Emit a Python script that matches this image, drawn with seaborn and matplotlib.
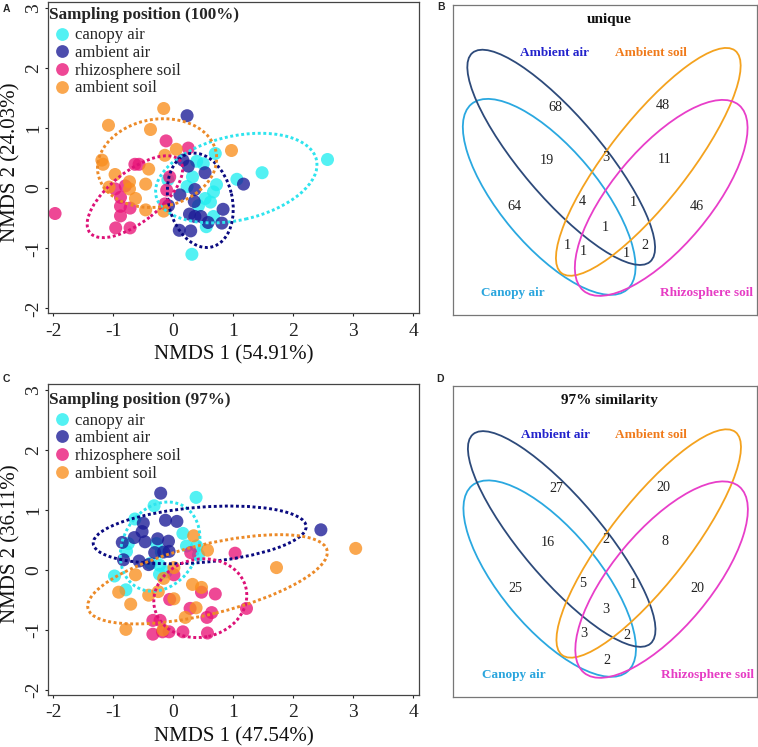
import numpy as np
import pandas as pd
import matplotlib
matplotlib.use("Agg")
import matplotlib.pyplot as plt
from matplotlib.patches import Ellipse
from matplotlib.lines import Line2D
import seaborn as sns

# ---------------- data ----------------
groups = ["canopy air", "ambient air", "rhizosphere soil", "ambient soil"]

# Panel A : NMDS (100%)
a_canopy_x = [2.57, 1.48, 1.06, 0.70, 0.39, 0.50, 0.32, 0.72, 0.23, 0.67, 0.53, 0.62, 0.42, 0.67, 0.55, 0.31, -0.09]
a_canopy_y = [0.48, 0.26, 0.15, 0.58, 0.45, 0.41, 0.19, 0.06, 0.03, -0.06, -0.17, -0.23, -0.29, -0.47, -0.64, -1.10, 0.14]
a_air_x = [0.23, 0.16, 0.25, 0.53, 1.17, 0.36, 0.11, 0.35, 0.83, 0.27, 0.36, 0.46, 0.81, 0.58, 0.10, 0.29, -0.08]
a_air_y = [1.21, 0.47, 0.37, 0.26, 0.07, -0.02, -0.11, -0.22, -0.35, -0.43, -0.47, -0.47, -0.58, -0.57, -0.70, -0.71, -0.29]
a_rhizo_x = [-1.97, -0.12, -0.64, -0.57, 0.25, -0.80, -0.97, -0.88, -0.88, -0.72, -0.88, -0.96, -0.72, -0.11, -0.14, -0.06]
a_rhizo_y = [-0.42, 0.79, 0.40, 0.40, 0.67, 0.04, -0.01, -0.15, -0.30, -0.33, -0.46, -0.66, -0.66, -0.03, -0.26, 0.19]
a_soil_x = [-0.16, -1.08, -0.38, 0.05, 0.97, -0.14, -1.19, -1.17, -0.41, -0.97, -0.73, -0.46, -1.07, -0.73, -0.63, -0.46, -0.16]
a_soil_y = [1.33, 1.05, 0.98, 0.65, 0.63, 0.55, 0.47, 0.40, 0.32, 0.23, 0.11, 0.07, 0.02, -0.01, -0.17, -0.36, -0.38]

# Panel A ellipses (centre x, centre y, semi-major, semi-minor, angle deg)
a_ell_cx = [1.05, 0.45, -0.64, -0.27]
a_ell_cy = [0.17, -0.20, -0.14, 0.42]
a_ell_a = [1.37, 0.80, 0.96, 1.00]
a_ell_b = [0.70, 0.53, 0.42, 0.73]
a_ell_ang = [12.8, 104.0, 38.5, 10.0]

# Panel C : NMDS (97%)
c_canopy_x = [0.38, -0.32, -0.64, 0.16, 0.22, 0.39, 0.42, -0.75, -0.78, -0.98, -0.79, -0.28, -0.38, -0.23, -0.23, -0.12, -0.20]
c_canopy_y = [1.21, 1.07, 0.85, 0.61, 0.40, 0.40, 0.25, 0.44, 0.31, -0.10, -0.33, 0.44, 0.11, 0.08, -0.07, -0.03, 0.30]
c_air_x = [-0.21, -0.50, -0.13, 0.06, -0.65, -0.52, -0.47, -0.85, -0.26, -0.08, -0.31, -0.16, -0.07, -0.83, -0.57, -0.41, 2.46]
c_air_y = [1.28, 0.78, 0.83, 0.81, 0.54, 0.64, 0.47, 0.46, 0.52, 0.48, 0.29, 0.30, 0.31, 0.17, 0.15, 0.09, 0.67]
c_rhizo_x = [1.03, 0.29, 0.01, 0.47, 0.70, -0.06, 0.28, 0.64, 0.56, 1.22, -0.34, -0.22, -0.34, -0.18, -0.07, 0.16, 0.57]
c_rhizo_y = [0.28, 0.29, -0.08, -0.37, -0.40, -0.49, -0.64, -0.71, -0.79, -0.64, -0.84, -0.84, -1.07, -1.03, -1.03, -1.03, -1.05]
c_soil_x = [3.04, 1.72, 0.34, 0.57, 0.01, -0.16, -0.63, -0.91, -0.71, -0.41, -0.25, 0.01, 0.32, 0.47, 0.38, 0.20, -0.79, -0.17]
c_soil_y = [0.36, 0.04, 0.57, 0.33, 0.04, -0.14, -0.08, -0.37, -0.57, -0.42, -0.36, -0.48, -0.24, -0.29, -0.63, -0.79, -0.99, -1.00]

c_ell_cx = [-0.22, 0.44, 0.45, 0.57]
c_ell_cy = [0.39, 0.585, -0.47, -0.155]
c_ell_a = [0.78, 1.78, 0.78, 2.05]
c_ell_b = [0.62, 0.46, 0.65, 0.58]
c_ell_ang = [60.0, 4.7, 12.0, 13.7]

x_ticks = [-2, -1, 0, 1, 2, 3, 4]
y_ticks = [-2, -1, 0, 1, 2, 3]

# Venn counts  (A=canopy air, B=ambient air, C=ambient soil, D=rhizosphere soil)
venn_regions = ["A", "B", "C", "D", "AB", "AC", "AD", "BC", "BD", "CD",
                "ABC", "ABD", "ACD", "BCD", "ABCD"]
unique_counts = [64, 68, 48, 46, 19, 1, 0, 3, 2, 11, 4, 1, 1, 1, 1]
sim97_counts = [25, 27, 20, 20, 16, 0, 2, 2, 0, 8, 5, 2, 3, 1, 3]
venn_sets = ["Canopy air", "Ambient air", "Ambient soil", "Rhizosphere soil"]

# ---------------- style ----------------
sns.set_theme(style="ticks")
plt.rcParams["font.family"] = ["Liberation Serif", "DejaVu Serif"]

pt_colors = {"canopy air": "#22EEF0", "ambient air": "#1B1B96",
             "rhizosphere soil": "#EA1478", "ambient soil": "#F98E1D"}
ell_colors = ["#2EE4EE", "#0A0A80", "#DD1177", "#EC8A28"]

W, H = 758, 747
fig = plt.figure(figsize=(W / 100, H / 100), dpi=100)


def px_axes(l, t, r, b):
    return fig.add_axes([l / W, 1 - b / H, (r - l) / W, (b - t) / H])


def nmds_panel(ax, xs, ys, ecx, ecy, ea, eb, eang, title, xlabel, ylabel,
               leg_y):
    frames = []
    for g, x, y in zip(groups, xs, ys):
        frames.append(pd.DataFrame({"x": x, "y": y, "group": g}))
    df = pd.concat(frames, ignore_index=True)
    sns.scatterplot(data=df, x="x", y="y", hue="group", hue_order=groups,
                    palette=pt_colors, s=88, alpha=0.78, linewidth=0,
                    legend=False, ax=ax, zorder=2)
    for i in range(4):
        e = Ellipse((ecx[i], ecy[i]), 2 * ea[i], 2 * eb[i], angle=eang[i],
                    fill=False, edgecolor=ell_colors[i], lw=2.1,
                    linestyle=(0, (1, 0.9)), zorder=3)
        ax.add_patch(e)
    ax.set_xlim(-2.093, 4.1)
    ax.set_ylim(-2.08, 3.1)
    ax.set_xticks(x_ticks)
    ax.set_yticks(y_ticks)
    ax.set_xticklabels([str(v) for v in x_ticks])
    ax.set_yticklabels([str(v) for v in y_ticks])
    ax.tick_params(axis="both", direction="out", length=2.4, width=0.8,
                   labelsize=14, pad=4.5, colors="#222222")
    ax.tick_params(axis="y", labelrotation=90, pad=1.6)
    for lbl in ax.get_yticklabels():
        lbl.set_va("center")
    for s in ax.spines.values():
        s.set_visible(True)
        s.set_color("#444444")
        s.set_linewidth(0.9)
    ax.set_xlabel(xlabel, fontsize=15, color="#111111")
    ax.set_ylabel(ylabel, fontsize=15, color="#111111")
    ax.xaxis.set_label_coords(0.5, -0.104)
    ax.yaxis.set_label_coords(-0.074, 0.485)
    handles = [Line2D([0], [0], marker="o", linestyle="", markersize=9.2,
                      markerfacecolor=pt_colors[g], markeredgewidth=0,
                      alpha=0.78) for g in groups]
    leg = ax.legend(handles, groups, loc="upper left",
                    bbox_to_anchor=(0.004, leg_y), frameon=False,
                    fontsize=12, title=title,
                    title_fontproperties={"weight": "bold", "size": 12.3},
                    borderpad=0.0, labelspacing=0.1, handlelength=1.55,
                    handletextpad=0.0, borderaxespad=0.0, alignment="left")
    leg._legend_box.sep = 3
    return ax


axA = px_axes(47.7, 2.3, 419.3, 313.1)
nmds_panel(axA, [a_canopy_x, a_air_x, a_rhizo_x, a_soil_x],
           [a_canopy_y, a_air_y, a_rhizo_y, a_soil_y],
           a_ell_cx, a_ell_cy, a_ell_a, a_ell_b, a_ell_ang,
           "Sampling position (100%)", "NMDS 1 (54.91%)", "NMDS 2 (24.03%)",
           0.984)

axC = px_axes(47.7, 384.0, 419.3, 694.8)
nmds_panel(axC, [c_canopy_x, c_air_x, c_rhizo_x, c_soil_x],
           [c_canopy_y, c_air_y, c_rhizo_y, c_soil_y],
           c_ell_cx, c_ell_cy, c_ell_a, c_ell_b, c_ell_ang,
           "Sampling position (97%)", "NMDS 1 (47.54%)", "NMDS 2 (36.11%)",
           0.973)

# ---------------- Venn panels ----------------
venn_ell = [  # centre x, centre y (down), semi-major, semi-minor, angle
    (96.5, 192.0, 121.0, 49.0, 50.0),
    (108.5, 152.5, 137.0, 40.0, 49.6),
    (195.6, 157.0, 141.0, 40.0, -52.0),
    (208.5, 193.0, 121.0, 49.0, -50.0),
]
venn_line_colors = ["#2AA8E0", "#2D4A7A", "#F4A21E", "#E83EC9"]
venn_text_colors = ["#2AA5DD", "#2222CC", "#F07A1A", "#E63CC4"]
venn_set_pos = [(60.6, 288.5), (102.3, 48.5), (198.0, 48.5), (254.0, 288.5)]
venn_num_pos = {
    "A": (62.0, 202.0), "B": (103.0, 102.5), "C": (210.0, 101.0),
    "D": (244.0, 202.0), "AB": (94.5, 155.5), "AC": (114.6, 240.5),
    "AD": (153.4, 274.0), "BC": (152.8, 153.0), "BD": (192.3, 240.5),
    "CD": (211.5, 155.0), "ABC": (129.5, 196.5), "ABD": (173.5, 249.0),
    "ACD": (131.0, 247.0), "BCD": (180.5, 197.5), "ABCD": (152.8, 222.5),
}


def venn_panel(ax, counts, title):
    ax.set_xlim(0, 304)
    ax.set_ylim(310, 0)
    ax.set_xticks([])
    ax.set_yticks([])
    for s in ax.spines.values():
        s.set_visible(True)
        s.set_color("#777777")
        s.set_linewidth(0.9)
    for (cx, cy, a, b, ang), col in zip(venn_ell, venn_line_colors):
        ax.add_patch(Ellipse((cx, cy), 2 * a, 2 * b, angle=ang, fill=False,
                             edgecolor=col, lw=1.3))
    for name, (x, y), col in zip(venn_sets, venn_set_pos, venn_text_colors):
        ax.text(x, y, name, ha="center", va="center", color=col,
                fontsize=9.5, fontweight="bold")
    for reg, n in zip(venn_regions, counts):
        if n > 0:
            x, y = venn_num_pos[reg]
            ax.text(x, y, str(n), ha="center", va="center", fontsize=10.2,
                    color="#222222")
    ax.text(156.5, 14.5, title, ha="center", va="center", fontsize=11,
            fontweight="bold", color="#111111")


axB = px_axes(452.7, 4.7, 756.7, 315.0)
venn_panel(axB, unique_counts, "unique")
axD = px_axes(453.3, 386.0, 757.0, 697.0)
venn_panel(axD, sim97_counts, "97% similarity")

# panel letters
for lab, (x, y) in zip(["A", "B", "C", "D"],
                       [(6, 9.5), (441, 7.5), (6, 379.5), (440, 379.5)]):
    fig.text(x / W, 1 - y / H, lab, ha="center", va="center",
             fontsize=7.5, fontweight="bold", family="Liberation Sans")

fig.savefig("out.png", dpi=100)
